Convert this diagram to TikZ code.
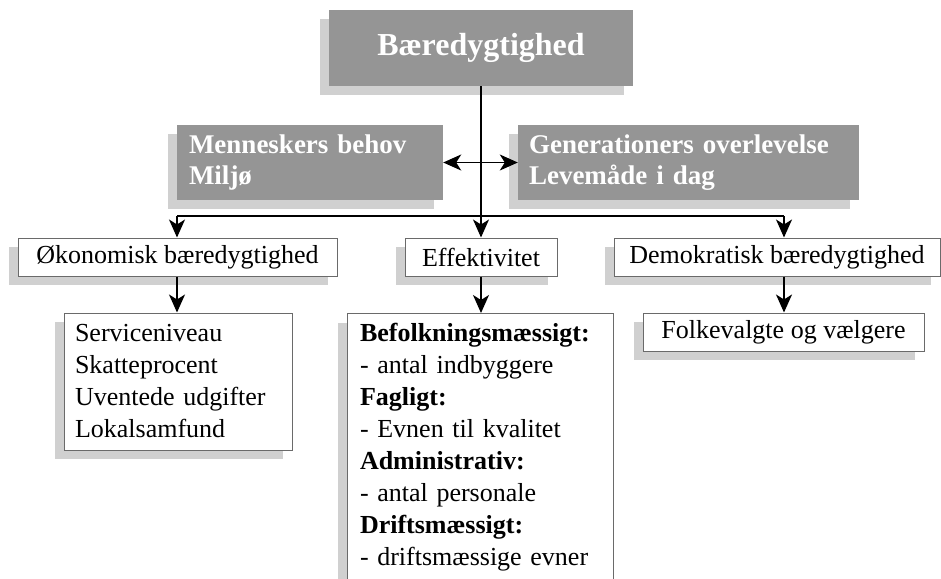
\documentclass[tikz,border=0pt]{standalone}
\usepackage{fontspec}
\setmainfont{Liberation Serif}
\usetikzlibrary{arrows.meta,shadows}
\definecolor{boxgray}{HTML}{959595}
\definecolor{shadegray}{HTML}{D0D0D0}
\definecolor{edgegray}{HTML}{6A6A6A}
\begin{document}
\begin{tikzpicture}[x=1pt,y=-1pt,
  shd/.style={drop shadow={shadow xshift=-9pt,shadow yshift=-9pt,fill=shadegray,opacity=1}},
  graybox/.style={shd,fill=boxgray,draw=none,text=white,inner ysep=0pt,
    font=\fontsize{27}{31}\selectfont\bfseries,align=left},
  whitebox/.style={shd,fill=white,draw=edgegray,line width=1pt,inner sep=0pt,
    font=\fontsize{26}{32}\selectfont},
  listbox/.style={shd,fill=white,draw=edgegray,line width=1pt,align=left,
    font=\fontsize{26}{32}\selectfont},
  conn/.style={line width=1.6pt,black},
  tip/.style={},
  arr/.style={conn,-{Stealth[length=18pt,width=16pt,inset=5pt]}},
  darr/.style={conn,{Stealth[length=18pt,width=16pt,inset=5pt]}-{Stealth[length=18pt,width=16pt,inset=5pt]}}]
\useasboundingbox (0,0) rectangle (941,578);
\fill[white] (0,0) rectangle (941,578);
% top
\node[graybox,font=\fontsize{32}{36}\selectfont\bfseries,minimum width=304pt,minimum height=76pt,inner xsep=0pt,align=center] (top) at (481,48) {Bæredygtighed};
% gray middle boxes
\node[graybox,minimum height=75pt,text width=242pt,inner xsep=12pt] (mleft) at (310,162.5) {Menneskers behov\\Miljø};
\node[graybox,minimum height=75pt,text width=319pt,inner xsep=11pt] (mright) at (688.5,162.5) {Generationers overlevelse\\Levemåde i dag};
% second level
\node[whitebox,minimum width=319pt,minimum height=38pt] (ok) at (177.5,257) {Økonomisk bæredygtighed};
\node[whitebox,minimum width=152pt,minimum height=38pt] (eff) at (481,257) {Effektivitet};
\node[whitebox,minimum width=326pt,minimum height=38pt] (dem) at (777,257) {Demokratisk bæredygtighed};
% third level
\node[listbox,minimum height=137pt,text width=206pt,inner xsep=11pt,inner ysep=0pt] (serv) at (178,381.5)
  {Serviceniveau\\Skatteprocent\\Uventede udgifter\\Lokalsamfund};
\node[listbox,anchor=north,text width=240pt,inner xsep=13pt,inner ysep=10pt] (effbox) at (480,313)
  {\textbf{Befolkningsmæssigt:}\\ - antal indbyggere\\ \textbf{Fagligt:}\\ - Evnen til kvalitet\\ \textbf{Administrativ:}\\ - antal personale\\ \textbf{Driftsmæssigt:}\\ - driftsmæssige evner};
\node[whitebox,minimum width=281pt,minimum height=38pt] (fv) at (783.5,332) {Folkevalgte og vælgere};
% connectors
\coordinate (bl) at (177,216);
\coordinate (br) at (784,216);
\draw[arr] (top.south) -- (top.south |- eff.north);
\draw[darr] (mleft.east) -- (mright.west);
\draw[conn] (bl) -- (br);
\draw[arr] (bl) -- (bl |- ok.north);
\draw[arr] (br) -- (br |- dem.north);
\draw[arr] (ok.south -| bl) -- (bl |- serv.north);
\draw[arr] (eff.south) -- (eff.south |- effbox.north);
\draw[arr] (br |- dem.south) -- (br |- fv.north);
\end{tikzpicture}
\end{document}
